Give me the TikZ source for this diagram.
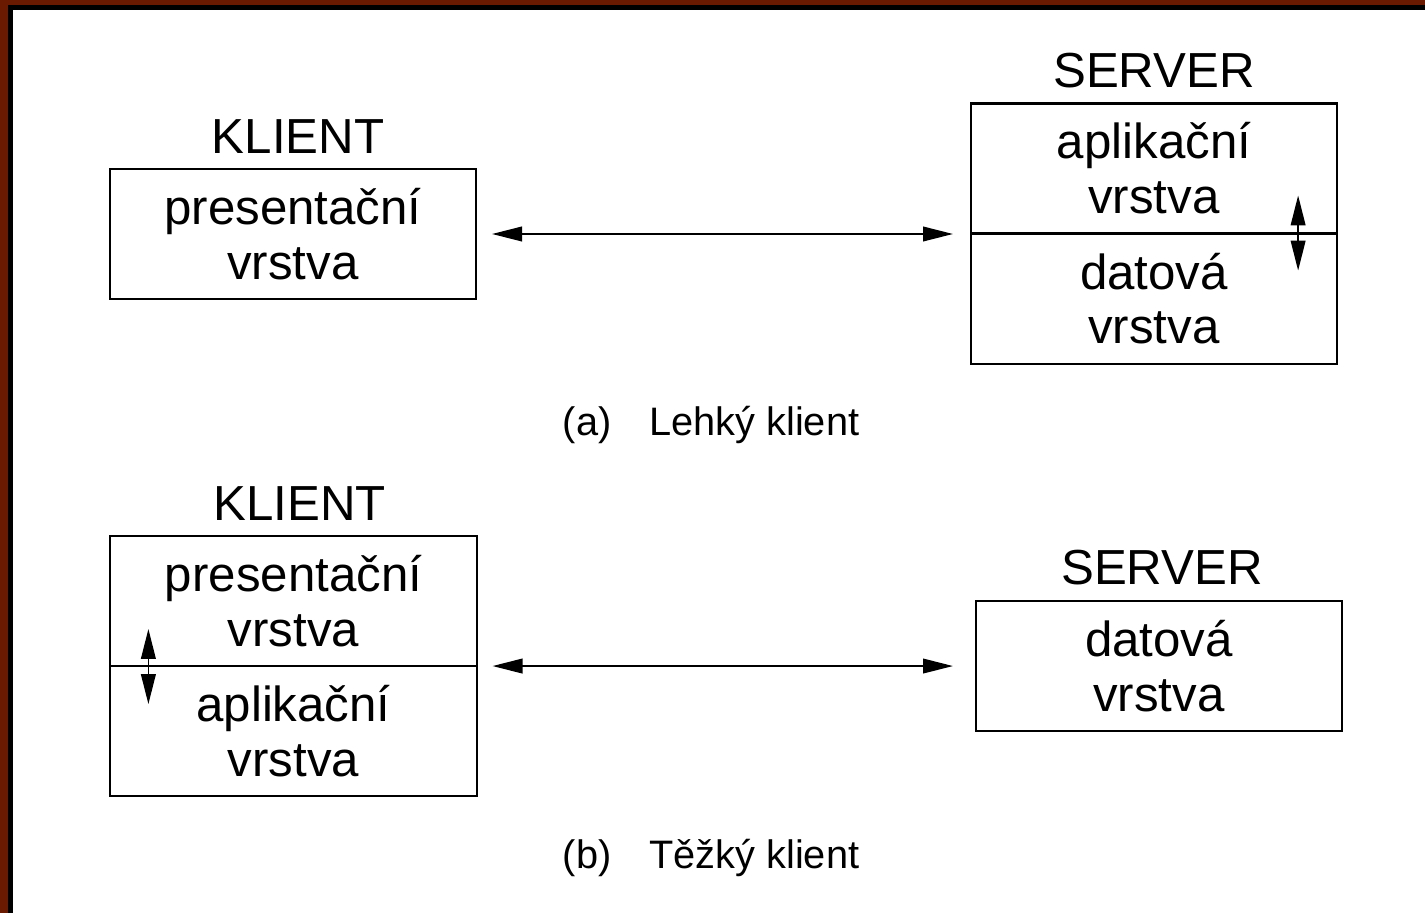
\documentclass[tikz,border=0pt]{standalone}
\usepackage{fontspec}
\setmainfont{Liberation Sans}
\usepackage{xcolor}
\definecolor{framered}{RGB}{105,26,0}
\usetikzlibrary{positioning,calc,arrows.meta}

\tikzset{
  layer/.style={draw, line width=0.6pt, minimum width=3.66cm, minimum height=1.3cm,
    align=center, inner sep=0pt, outer sep=0pt, font=\fontsize{14}{15.6}\selectfont},
  side/.style={font=\fontsize{14}{16}\selectfont},
  caption/.style={font=\fontsize{11.3}{13}\selectfont},
  link/.style={line width=0.4pt, {Triangle[length=8.5pt,width=4.2pt]}-{Triangle[length=8.5pt,width=4.2pt]}}
}

\begin{document}
\begin{tikzpicture}[x=0.01cm, y=0.01cm]
			\useasboundingbox (0,0) rectangle (1425,-913);
			% frame
			\fill[framered] (0,0) rectangle (8,-913);
			\fill[framered] (0,0) rectangle (1425,-5);
			\fill[black] (8,-5) rectangle (13,-913);
			\fill[black] (8,-5) rectangle (1425,-10);
			% (a) thin client
			\node[layer] (kl1) at (293,-234) {presentační\\vrstva};
			\node[side, above=1pt of kl1, xshift=0.05cm] (kl1t) {KLIENT};
			\node[layer] (sv1a) at (1154,-168.5) {aplikační\\vrstva};
			\node[layer, below=0pt of sv1a] (sv1b) {datová\\vrstva};
			\node[side, above=1pt of sv1a] (sv1t) {SERVER};
			\draw[link, shorten <=0.16cm, shorten >=0.18cm] (kl1.east) -- (kl1.east -| sv1a.west);
			\draw[link] ($(sv1a.south east)+(-39,38)$) -- ($(sv1a.south east)+(-39,-37)$);
			\node[caption] (capa) at (711,-425) {(a)\hspace{0.38cm}Lehký klient};
			% (b) thick client
			\node[layer] (kl2a) at (293.5,-601) {presentační\\vrstva};
			\node[layer, below=0pt of kl2a] (kl2b) {aplikační\\vrstva};
			\node[side, above=1pt of kl2a, xshift=0.06cm] (kl2t) {KLIENT};
			\node[layer] (sv2) at (1159,-666) {datová\\vrstva};
			\node[side, above=1pt of sv2, xshift=0.03cm] (sv2t) {SERVER};
			\draw[link, shorten <=0.16cm, shorten >=0.23cm] (kl2a.south east) -- (kl2a.south east -| sv2.west);
			\draw[link] ($(kl2a.south west)+(38,37)$) -- ($(kl2a.south west)+(38,-38)$);
			\node[caption] (capb) at (711,-858) {(b)\hspace{0.38cm}Těžký klient};
		\end{tikzpicture}
\end{document}
